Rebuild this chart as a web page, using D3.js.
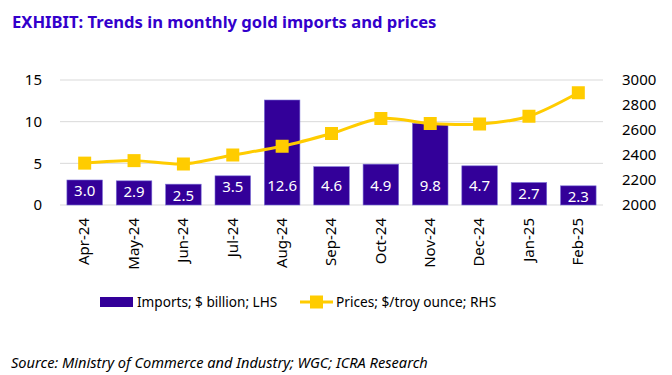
<!DOCTYPE html>
<html>
<head>
<meta charset="utf-8">
<script src="https://cdn.jsdelivr.net/npm/d3@7"></script>
<style>
  html, body { margin: 0; padding: 0; background: #fff; }
  svg { display: block; font-family: "Noto Sans", "Open Sans", sans-serif; }
</style>
</head>
<body>
<div id="chart"></div>
<script>
// months on the x axis
const months = ["Apr-24", "May-24", "Jun-24", "Jul-24", "Aug-24", "Sep-24", "Oct-24", "Nov-24", "Dec-24", "Jan-25", "Feb-25"];
// gold imports, $ billion (left axis)
const imports = [3.0, 2.9, 2.5, 3.5, 12.6, 4.6, 4.9, 9.8, 4.7, 2.7, 2.3];
// gold prices, $/troy ounce (right axis)
const prices = [2335, 2355, 2328, 2400, 2470, 2572, 2692, 2652, 2648, 2710, 2898];

const leftTicks = [0, 5, 10, 15];
const rightTicks = [2000, 2200, 2400, 2600, 2800, 3000];

const W = 672, H = 375;
const plot = { left: 60, right: 603, top: 80, bottom: 205 };

const svg = d3.select("#chart")
    .append("svg")
    .attr("width", W)
    .attr("height", H);

// titre
svg.append("text")
    .attr("x", 12)
    .attr("y", 28)
    .attr("fill", "#3300cc")
    .attr("font-weight", "bold")
    .attr("font-size", 16.6)
    .text("EXHIBIT: Trends in monthly gold imports and prices");

const x = d3.scaleBand()
    .domain(months)
    .range([plot.left, plot.right])
    .paddingInner(0.28)
    .paddingOuter(0.14);

const yL = d3.scaleLinear().domain([0, 15]).range([plot.bottom, plot.top]);
const yR = d3.scaleLinear().domain([2000, 3000]).range([plot.bottom, plot.top]);

// gridlines
svg.append("g")
    .selectAll("line")
    .data(leftTicks)
    .enter()
    .append("line")
    .attr("x1", plot.left)
    .attr("x2", plot.right)
    .attr("y1", d => yL(d))
    .attr("y2", d => yL(d))
    .attr("stroke", "#d9d9d9")
    .attr("stroke-width", 1);

// left axis
const axL = svg.append("g")
    .attr("transform", `translate(${plot.left - 18},0)`)
    .call(d3.axisLeft(yL).tickValues(leftTicks).tickSize(0).tickPadding(0));
axL.select(".domain").remove();
axL.selectAll("text").attr("font-size", 15).attr("fill", "#000").attr("font-family", "Noto Sans");

// right axis
const axR = svg.append("g")
    .attr("transform", `translate(${plot.right + 19},0)`)
    .call(d3.axisRight(yR).tickValues(rightTicks).tickFormat(d3.format("d")).tickSize(0).tickPadding(0));
axR.select(".domain").remove();
axR.selectAll("text").attr("font-size", 15).attr("fill", "#000").attr("font-family", "Noto Sans");

// bars
svg.append("g")
    .selectAll("rect")
    .data(imports)
    .enter()
    .append("rect")
    .attr("x", (d, i) => x(months[i]))
    .attr("y", d => yL(d))
    .attr("width", x.bandwidth())
    .attr("height", d => yL(0) - yL(d))
    .attr("fill", "#330099")
    .attr("stroke", "#7a6fd6")
    .attr("stroke-width", 0.6);

// bar labels
svg.append("g")
    .selectAll("text")
    .data(imports)
    .enter()
    .append("text")
    .attr("x", (d, i) => x(months[i]) + x.bandwidth() / 2)
    .attr("y", d => Math.max(yL(d) + 11, yL(0) - 19))
    .attr("dy", "0.36em")
    .attr("text-anchor", "middle")
    .attr("fill", "#fff")
    .attr("font-size", 15)
    .text(d => d.toFixed(1));

// price line
const line = d3.line()
    .x((d, i) => x(months[i]) + x.bandwidth() / 2)
    .y(d => yR(d))
    .curve(d3.curveCardinal.tension(0.1));

svg.append("path")
    .datum(prices)
    .attr("d", line)
    .attr("fill", "none")
    .attr("stroke", "#ffcc00")
    .attr("stroke-width", 3);

svg.append("g")
    .selectAll("rect")
    .data(prices)
    .enter()
    .append("rect")
    .attr("x", (d, i) => x(months[i]) + x.bandwidth() / 2 - 6.5)
    .attr("y", d => yR(d) - 6.5)
    .attr("width", 13)
    .attr("height", 13)
    .attr("fill", "#ffcc00");

// x axis labels, rotated
svg.append("g")
    .selectAll("text")
    .data(months)
    .enter()
    .append("text")
    .attr("transform", d => `translate(${x(d) + x.bandwidth() / 2},218) rotate(-90)`)
    .attr("dy", "0.32em")
    .attr("text-anchor", "end")
    .attr("font-size", 15)
    .attr("fill", "#000")
    .text(d => d);

// legend
const lg = svg.append("g");
lg.append("rect")
    .attr("x", 100).attr("y", 297)
    .attr("width", 33).attr("height", 10)
    .attr("fill", "#330099");
lg.append("text")
    .attr("x", 137).attr("y", 302)
    .attr("dy", "0.35em")
    .attr("font-size", 13.6)
    .text("Imports; $ billion; LHS");
lg.append("line")
    .attr("x1", 300).attr("x2", 333)
    .attr("y1", 302).attr("y2", 302)
    .attr("stroke", "#ffcc00").attr("stroke-width", 3);
lg.append("rect")
    .attr("x", 310).attr("y", 295.5)
    .attr("width", 13).attr("height", 13)
    .attr("fill", "#ffcc00");
lg.append("text")
    .attr("x", 336).attr("y", 302)
    .attr("dy", "0.35em")
    .attr("font-size", 13.7)
    .text("Prices; $/troy ounce; RHS");

// source
svg.append("text")
    .attr("x", 11)
    .attr("y", 368)
    .attr("font-style", "italic")
    .attr("font-size", 14.6)
    .attr("fill", "#000")
    .text("Source: Ministry of Commerce and Industry; WGC; ICRA Research");
</script>
</body>
</html>
